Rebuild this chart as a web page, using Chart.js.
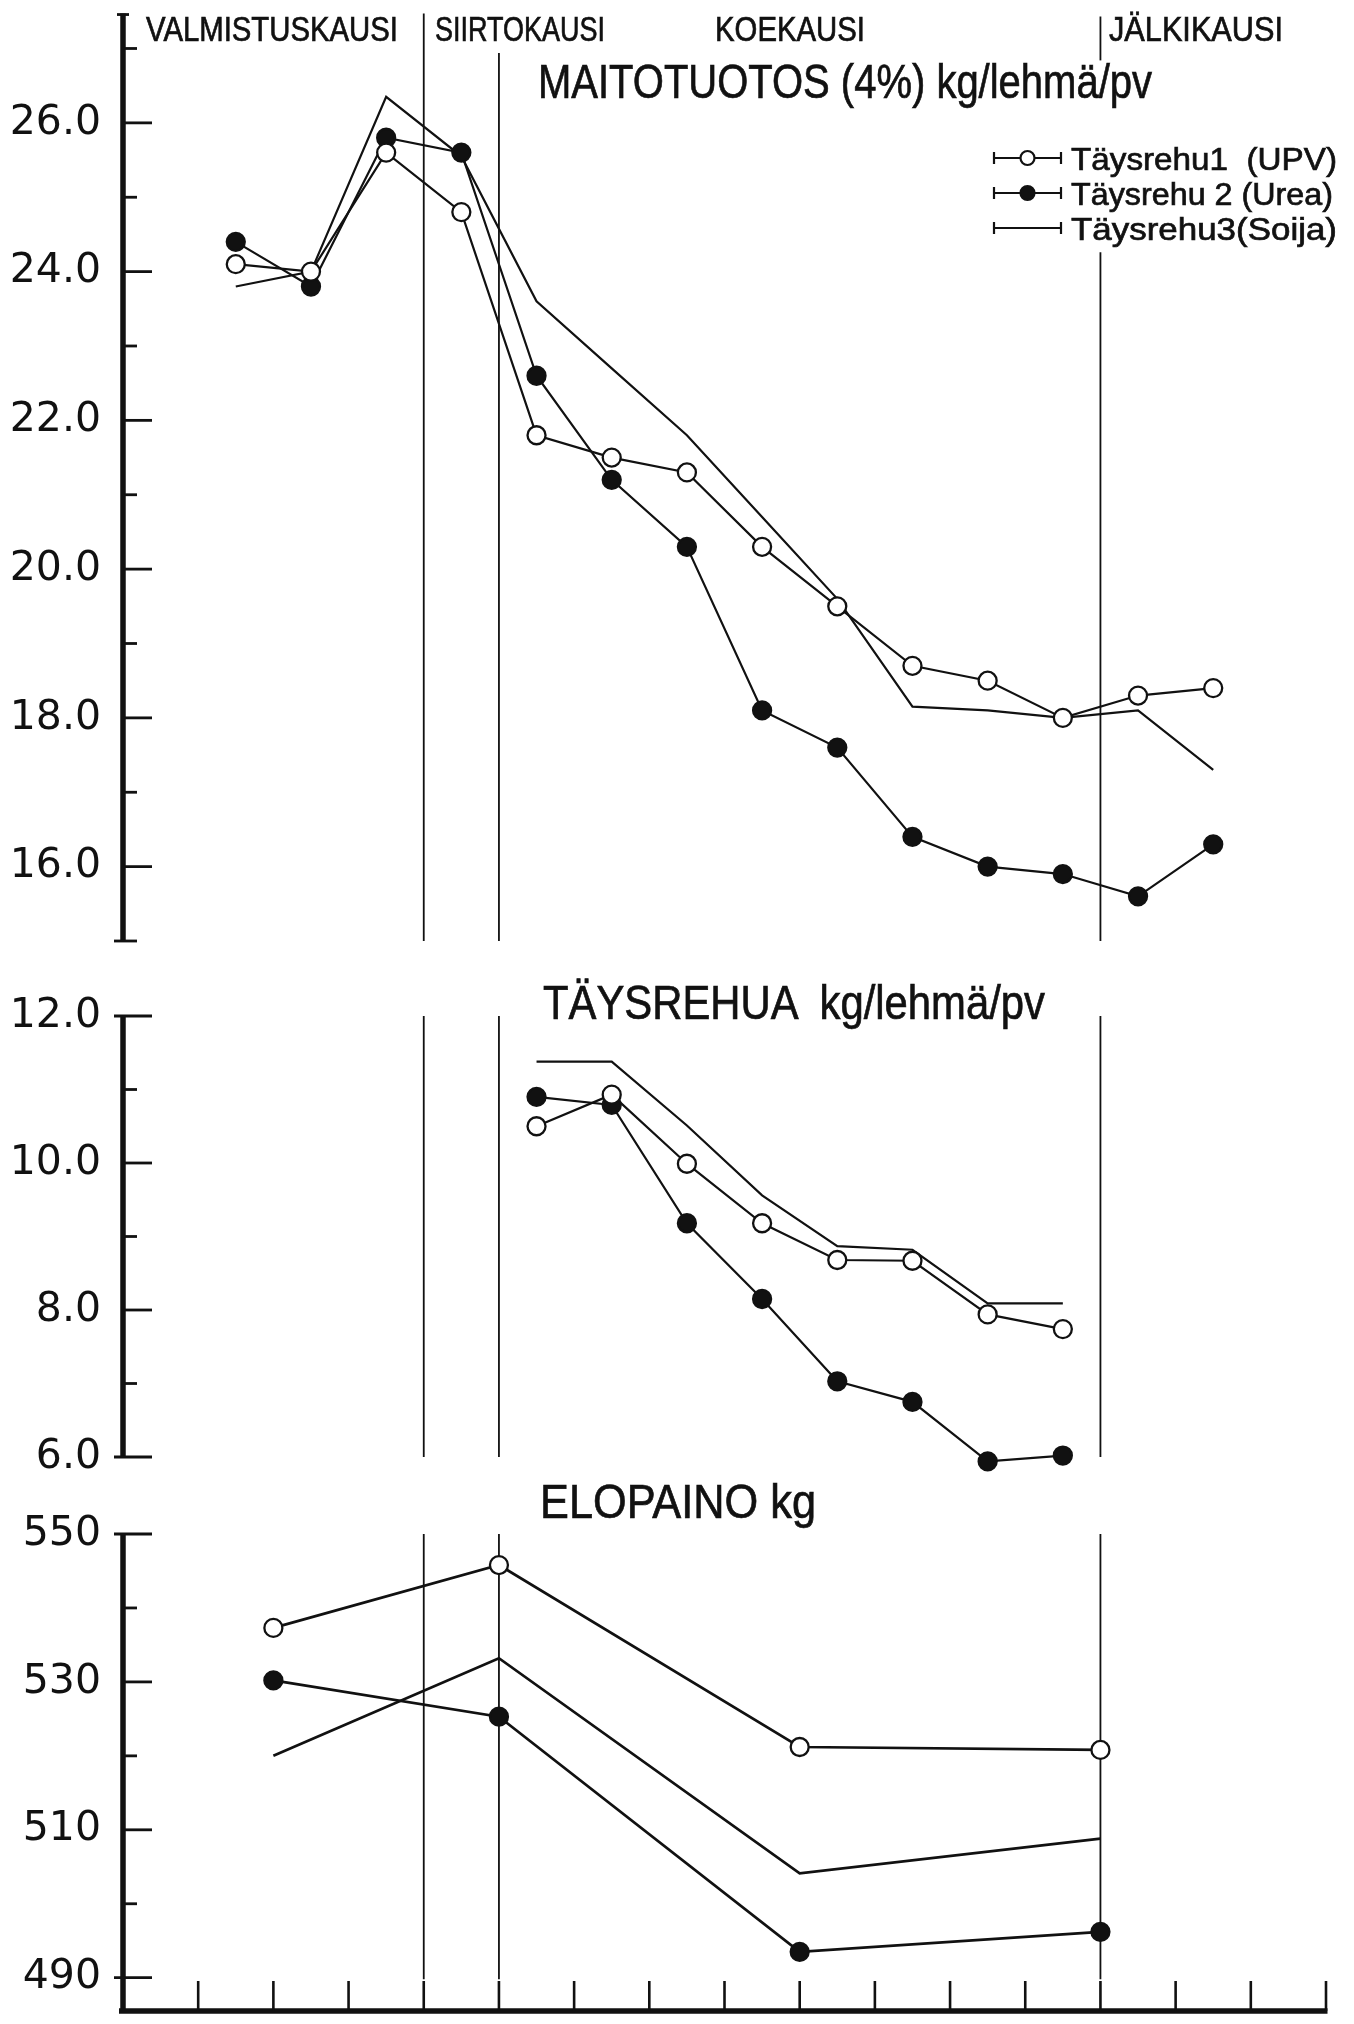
<!DOCTYPE html>
<html lang="fi">
<head>
<meta charset="utf-8">
<title>Maitotuotos, täysrehun syönti ja elopaino</title>
<script src="https://cdn.jsdelivr.net/npm/chart.js@4.4.1/dist/chart.umd.min.js"></script>
<style>
  html, body { margin: 0; padding: 0; background: #fff; }
  #page { position: relative; width: 1354px; height: 2024px; overflow: hidden; background: #fff; }
  #page canvas { position: absolute; left: 0; }
  .txt {
    position: absolute; white-space: pre; color: #111; line-height: 1;
    font-family: "Liberation Sans", Arial, sans-serif; transform-origin: 0 0; z-index: 2;
    -webkit-text-stroke: 0.7px #111;
  }
</style>
</head>
<body>
<div id="page">
  <canvas id="milkChart" width="1354" height="960" style="top:0px"></canvas>
  <canvas id="feedChart" width="1354" height="530" style="top:942px"></canvas>
  <canvas id="weightChart" width="1354" height="554" style="top:1470px"></canvas>
</div>
<script>
// ---------------- data ----------------
const seriesNames = ['Täysrehu1  (UPV)', 'Täysrehu 2 (Urea)', 'Täysrehu3(Soija)'];
const periodNames = ['VALMISTUSKAUSI', 'SIIRTOKAUSI', 'KOEKAUSI', 'JÄLKIKAUSI'];
const periodBreaks = [4, 5, 13];            // weeks where one period ends and the next begins
const panelTitles = ['MAITOTUOTOS (4%) kg/lehmä/pv', 'TÄYSREHUA  kg/lehmä/pv', 'ELOPAINO kg'];

// milk yield, 4 % FCM kg/cow/day, weekly means
const milkWeeks = [1.5, 2.5, 3.5, 4.5, 5.5, 6.5, 7.5, 8.5, 9.5, 10.5, 11.5, 12.5, 13.5, 14.5];
const milkUPV   = [24.1, 24.0, 25.6, 24.8, 21.8, 21.5, 21.3, 20.3, 19.5, 18.7, 18.5, 18.0, 18.3, 18.4];
const milkUrea  = [24.4, 23.8, 25.8, 25.6, 22.6, 21.2, 20.3, 18.1, 17.6, 16.4, 16.0, 15.9, 15.6, 16.3];
const milkSoija = [23.8, 24.0, 26.35, 25.55, 23.6, 22.7, 21.8, 20.7, 19.6, 18.15, 18.1, 18.0, 18.1, 17.3];

// complete feed intake kg/cow/day, weekly means
const feedWeeks = [5.5, 6.5, 7.5, 8.5, 9.5, 10.5, 11.5, 12.5];
const feedUPV   = [10.5, 10.93, 9.99, 9.18, 8.68, 8.67, 7.94, 7.74];
const feedUrea  = [10.9, 10.79, 9.18, 8.15, 7.03, 6.75, 5.94, 6.02];
const feedSoija = [11.38, 11.38, 10.51, 9.56, 8.87, 8.82, 8.09, 8.09];

// live weight kg, weighed at period boundaries
const weightWeeks = [2, 5, 9, 13];
const weightUPV   = [537.3, 545.8, 521.2, 520.8];
const weightUrea  = [530.2, 525.3, 493.5, 496.2];
const weightSoija = [520.0, 533.2, 504.1, 508.8];

// axis ticks
const weekTicks    = [1, 2, 3, 4, 5, 6, 7, 8, 9, 10, 11, 12, 13, 14, 15, 16];
const milkTicks    = [15, 16, 17, 18, 19, 20, 21, 22, 23, 24, 25, 26, 27];
const milkLabels   = [16, 18, 20, 22, 24, 26];
const feedTicks    = [6, 7, 8, 9, 10, 11, 12];
const feedLabels   = [6, 8, 10, 12];
const weightTicks  = [490, 500, 510, 520, 530, 540, 550];
const weightLabels = [490, 510, 530, 550];

// ---------------- drawing ----------------
const INK = '#111';
const AXIS_LEFT = 123;     // pixel width reserved for the value labels

function seg(ctx, x1, y1, x2, y2) {
  ctx.beginPath(); ctx.moveTo(x1, y1); ctx.lineTo(x2, y2); ctx.stroke();
}

// hand-drawn style frame: heavy value axis with inward ticks, period separators,
// and (bottom panel) the week axis
const paperAxes = {
  id: 'paperAxes',
  beforeDatasetsDraw(chart, _args, o) {
    const { ctx, scales: { x, y } } = chart;
    ctx.save();
    ctx.strokeStyle = INK;
    ctx.lineCap = 'butt';

    ctx.lineWidth = 1.8;
    o.separators.forEach(s => {
      const px = x.getPixelForValue(s.week);
      s.spans.forEach(([lo, hi]) => seg(ctx, px, y.getPixelForValue(lo), px, y.getPixelForValue(hi)));
    });

    const ax = x.getPixelForValue(0);
    ctx.lineWidth = 5.5;
    seg(ctx, ax, y.getPixelForValue(o.axisTop), ax, y.getPixelForValue(o.axisBottom));

    ctx.lineWidth = 2.8;
    o.ticks.forEach(v => {
      const py = y.getPixelForValue(v);
      const len = o.labels.includes(v) ? 29 : 14;
      const back = o.capped.includes(v) ? 9 : 0;
      seg(ctx, ax - back, py, ax + len, py);
    });
    if (o.topCap) {
      const py = y.getPixelForValue(o.axisTop) + 1;
      seg(ctx, ax - 6, py, ax + 6, py);
    }

    if (o.weeks) {
      const py = y.getPixelForValue(y.min);
      ctx.lineWidth = 5.5;
      seg(ctx, ax - 4, py, x.getPixelForValue(o.weeks[o.weeks.length - 1]) + 1.5, py);
      ctx.lineWidth = 2.6;
      o.weeks.forEach(w => {
        const px = x.getPixelForValue(w);
        seg(ctx, px, py, px, py - 30);
      });
    }
    ctx.restore();
  }
};

// legend keys drawn from the datasets' own styles
const keyRows = [158, 193, 228];
const keyLegend = {
  id: 'keyLegend',
  afterDraw(chart) {
    if (!chart.options.plugins.keyLegend.show) return;
    const { ctx } = chart;
    ctx.save();
    chart.data.datasets.forEach((ds, i) => {
      const yy = keyRows[i], x1 = 994, x2 = 1061, xm = (x1 + x2) / 2;
      ctx.strokeStyle = INK; ctx.lineWidth = 2.2;
      seg(ctx, x1, yy, x2, yy);
      seg(ctx, x1, yy - 6, x1, yy + 6);
      seg(ctx, x2, yy - 6, x2, yy + 6);
      if (ds.pointRadius > 0) {
        ctx.beginPath();
        ctx.arc(xm, yy, 7, 0, Math.PI * 2);
        ctx.fillStyle = ds.pointBackgroundColor;
        ctx.fill();
        ctx.lineWidth = 2.2;
        ctx.stroke();
      }
    });
    ctx.restore();
  }
};

function series(label, xs, ys, kind, width) {
  const base = {
    label,
    data: xs.map((x, i) => ({ x, y: ys[i] })),
    borderColor: INK,
    borderWidth: width,
    tension: 0,
    clip: false,
    pointBorderColor: INK,
    pointBorderWidth: 2.3,
    pointRadius: 9,
    pointHoverRadius: 9
  };
  if (kind === 'open') base.pointBackgroundColor = '#fff';
  if (kind === 'filled') base.pointBackgroundColor = INK;
  if (kind === 'plain') { base.pointRadius = 0; base.pointHoverRadius = 0; base.pointBackgroundColor = INK; }
  return base;
}

function makeChart(id, datasets, cfg) {
  return new Chart(document.getElementById(id), {
    type: 'line',
    data: { datasets },
    options: {
      responsive: false,
      animation: false,
      events: [],
      layout: { padding: cfg.padding },
      plugins: {
        legend: { display: false },
        tooltip: { enabled: false },
        paperAxes: cfg.frame,
        keyLegend: { show: !!cfg.legend }
      },
      scales: {
        x: { type: 'linear', min: 0, max: 16, display: false },
        y: {
          type: 'linear',
          min: cfg.min,
          max: cfg.max,
          position: 'left',
          afterBuildTicks: s => { s.ticks = cfg.frame.ticks.map(v => ({ value: v })); },
          afterFit: s => { s.width = AXIS_LEFT; s.paddingTop = 0; s.paddingBottom = 0; },
          grid: { display: false, drawTicks: false },
          border: { display: false },
          ticks: {
            autoSkip: false,
            padding: 22,
            color: INK,
            font: { family: '"DejaVu Sans", sans-serif', size: 41 },
            callback: v => cfg.frame.labels.includes(v) ? cfg.format(v) : ''
          }
        }
      }
    },
    plugins: [paperAxes, keyLegend]
  });
}

const oneDecimal = v => v.toFixed(1);
const whole = v => String(v);

makeChart('milkChart', [
  series(seriesNames[0], milkWeeks, milkUPV, 'open', 2.2),
  series(seriesNames[1], milkWeeks, milkUrea, 'filled', 2.2),
  series(seriesNames[2], milkWeeks, milkSoija, 'plain', 2.2)
], {
  min: 15, max: 27.5, format: oneDecimal, legend: true,
  padding: { left: 0, right: 28, top: 11, bottom: 19 },
  frame: {
    ticks: milkTicks, labels: milkLabels, capped: [15], axisTop: 27.47, axisBottom: 15, topCap: true,
    separators: [
      { week: periodBreaks[0], spans: [[15, 27.47]] },
      { week: periodBreaks[1], spans: [[15, 26.94]] },
      { week: periodBreaks[2], spans: [[15, 24.26], [26.84, 27.43]] }
    ]
  }
});

makeChart('feedChart', [
  series(seriesNames[0], feedWeeks, feedUPV, 'open', 2.2),
  series(seriesNames[1], feedWeeks, feedUrea, 'filled', 2.2),
  series(seriesNames[2], feedWeeks, feedSoija, 'plain', 2.2)
], {
  min: 6, max: 12, format: oneDecimal,
  padding: { left: 0, right: 28, top: 74, bottom: 15 },
  frame: {
    ticks: feedTicks, labels: feedLabels, capped: [6, 12], axisTop: 12, axisBottom: 6,
    separators: periodBreaks.map(w => ({ week: w, spans: [[6, 12]] }))
  }
});

makeChart('weightChart', [
  series(seriesNames[0], weightWeeks, weightUPV, 'open', 2.7),
  series(seriesNames[1], weightWeeks, weightUrea, 'filled', 2.7),
  series(seriesNames[2], weightWeeks, weightSoija, 'plain', 2.7)
], {
  min: 485.5, max: 550, format: whole,
  padding: { left: 0, right: 28, top: 64, bottom: 13 },
  frame: {
    ticks: weightTicks, labels: weightLabels, capped: [490, 550], axisTop: 550, axisBottom: 485.5,
    weeks: weekTicks,
    separators: periodBreaks.map(w => ({ week: w, spans: [[489.8, 550]] }))
  }
});

// ---------------- text ----------------
const page = document.getElementById('page');
function placeText(text, left, baseline, size, width) {
  const el = document.createElement('div');
  el.className = 'txt';
  el.textContent = text;
  el.style.fontSize = size + 'px';
  el.style.left = left + 'px';
  el.style.top = (baseline - 0.8465 * size) + 'px';
  page.appendChild(el);
  const natural = el.getBoundingClientRect().width;
  if (width && natural > 0) el.style.transform = 'scaleX(' + (width / natural).toFixed(4) + ')';
  return el;
}

// period names along the top
placeText(periodNames[0], 146, 41, 35, 252);
placeText(periodNames[1], 435, 41, 35, 170);
placeText(periodNames[2], 715, 41, 35, 150);
placeText(periodNames[3], 1109, 41, 35, 174);

// panel titles
placeText(panelTitles[0], 538, 98, 49, 614);
placeText(panelTitles[1], 543, 1019, 49, 502);
placeText(panelTitles[2], 540, 1518, 49, 276);

// legend labels
placeText(seriesNames[0], 1071, keyRows[0] + 12, 32, 266);
placeText(seriesNames[1], 1071, keyRows[1] + 12, 32, 262);
placeText(seriesNames[2], 1071, keyRows[2] + 12, 32, 266);
</script>
</body>
</html>
